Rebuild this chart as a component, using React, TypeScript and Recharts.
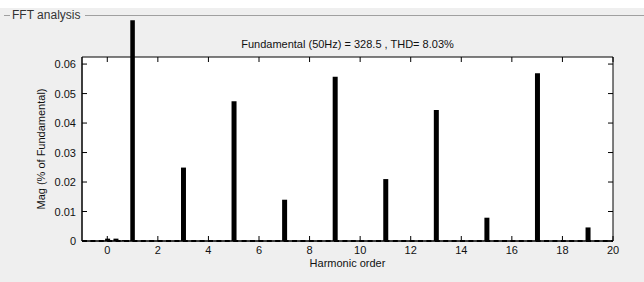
import {
  BarChart,
  Bar,
  XAxis,
  YAxis,
  CartesianGrid,
  ReferenceArea,
  ReferenceLine,
} from "recharts";

// harmonic spectrum (magnitude, % of fundamental)
const orders = [0, 0.33, 0.67, 3, 5, 7, 9, 11, 13, 15, 17, 19];
const mags = [0.0008, 0.0008, 0.0003, 0.0249, 0.0474, 0.014, 0.0557, 0.021, 0.0444, 0.0079, 0.0569, 0.0046];

// the fundamental bar runs off the top of the axes
const fundamentalOrder = 1;
const fundamentalMag = 0.0749;

const xTicks = [0, 2, 4, 6, 8, 10, 12, 14, 16, 18, 20];
const yTicks = [0, 0.01, 0.02, 0.03, 0.04, 0.05, 0.06];

const title = "Fundamental (50Hz) = 328.5 , THD= 8.03%";

const data = orders.map((order, i) => ({ order, mag: mags[i] }));

const FONT = "'Liberation Sans', Arial, sans-serif";
const TICK_LEN = 5;
const X_MARGIN = 4;
const Y_MARGIN = 6;
const BAR_W = 5;
const X_DOMAIN = [-1, 20];
const Y_DOMAIN = [0, 0.0624];

const LeftTick = ({ x, y, payload }: any) => (
  <g>
    <line x1={x + Y_MARGIN} x2={x + Y_MARGIN + TICK_LEN} y1={y} y2={y} stroke="#000" />
    <text x={x} y={y} dy={4} textAnchor="end" fontSize={11} fill="#111" fontFamily={FONT}>
      {payload.value}
    </text>
  </g>
);

const RightTick = ({ x, y }: any) => (
  <line x1={x - TICK_LEN} x2={x} y1={y} y2={y} stroke="#000" />
);

const BottomTick = ({ x, y, payload }: any) => (
  <g>
    <line x1={x} x2={x} y1={y - X_MARGIN} y2={y - X_MARGIN - TICK_LEN} stroke="#000" />
    <text x={x} y={y} dy={9} textAnchor="middle" fontSize={11} fill="#111" fontFamily={FONT}>
      {payload.value}
    </text>
  </g>
);

const TopTick = ({ x, y }: any) => (
  <line x1={x} x2={x} y1={y} y2={y + TICK_LEN} stroke="#000" />
);

export default function App() {
  return (
    <div
      style={{
        position: "absolute",
        left: 0,
        top: 0,
        width: 644,
        height: 282,
        background: "#efefef",
        fontFamily: FONT,
        overflow: "hidden",
      }}
    >
      <div style={{ position: "absolute", left: 0, top: 0, width: 644, height: 8, background: "#fff" }} />
      <div style={{ position: "absolute", left: 4, top: 15, width: 6, height: 1, background: "#a0a0a0" }} />
      <div style={{ position: "absolute", left: 85, top: 15, width: 559, height: 1, background: "#a0a0a0" }} />
      <div style={{ position: "absolute", left: 12, top: 7, fontSize: 12, color: "#333", lineHeight: "16px" }}>
        FFT analysis
      </div>
      <div
        style={{
          position: "absolute",
          left: 82,
          width: 531,
          top: 37,
          textAlign: "center",
          fontSize: 11,
          color: "#111",
          lineHeight: "14px",
        }}
      >
        {title}
      </div>
      <div style={{ position: "absolute", left: 0, top: 0 }}>
        <BarChart
          width={644}
          height={282}
          data={data}
          margin={{ top: 56, right: 30, bottom: 11, left: 42 }}
          barSize={BAR_W}
        >
          <CartesianGrid fill="#fff" horizontal={false} vertical={false} />
          <XAxis
            dataKey="order"
            type="number"
            domain={X_DOMAIN}
            ticks={xTicks}
            allowDataOverflow
            height={30}
            tickSize={0}
            tickMargin={X_MARGIN}
            tick={<BottomTick />}
            axisLine={{ stroke: "#000" }}
            label={{
              value: "Harmonic order",
              position: "insideBottom",
              offset: 4,
              fontSize: 11,
              fill: "#111",
              fontFamily: FONT,
            }}
          />
          <XAxis
            xAxisId="top"
            dataKey="order"
            orientation="top"
            type="number"
            domain={X_DOMAIN}
            ticks={xTicks}
            allowDataOverflow
            height={1}
            tickSize={0}
            tickMargin={0}
            tick={<TopTick />}
            axisLine={false}
          />
          <YAxis
            type="number"
            domain={Y_DOMAIN}
            ticks={yTicks}
            width={40}
            tickSize={0}
            tickMargin={Y_MARGIN}
            tick={<LeftTick />}
            axisLine={{ stroke: "#000" }}
            label={{
              value: "Mag (% of Fundamental)",
              angle: -90,
              position: "insideLeft",
              offset: -1,
              fontSize: 11,
              fill: "#111",
              fontFamily: FONT,
              style: { textAnchor: "middle" },
            }}
          />
          <YAxis
            yAxisId="right"
            dataKey="mag"
            orientation="right"
            type="number"
            domain={Y_DOMAIN}
            ticks={yTicks}
            allowDataOverflow
            width={1}
            tickSize={0}
            tickMargin={0}
            tick={<RightTick />}
            axisLine={false}
          />
          <ReferenceLine y={0} stroke="#000" strokeWidth={2} strokeDasharray="5 3.4" />
          <Bar dataKey="mag" fill="#000" isAnimationActive={false} />
          {/* axes box */}
          <ReferenceArea
            x1={X_DOMAIN[0]}
            x2={X_DOMAIN[1]}
            y1={Y_DOMAIN[0]}
            y2={Y_DOMAIN[1]}
            ifOverflow="visible"
            fill="none"
            stroke="#000"
          />
          <ReferenceArea
            x1={fundamentalOrder - 0.09}
            x2={fundamentalOrder + 0.09}
            y1={0}
            y2={fundamentalMag}
            ifOverflow="visible"
            fill="#000"
            fillOpacity={1}
            stroke="none"
          />
        </BarChart>
      </div>
    </div>
  );
}
